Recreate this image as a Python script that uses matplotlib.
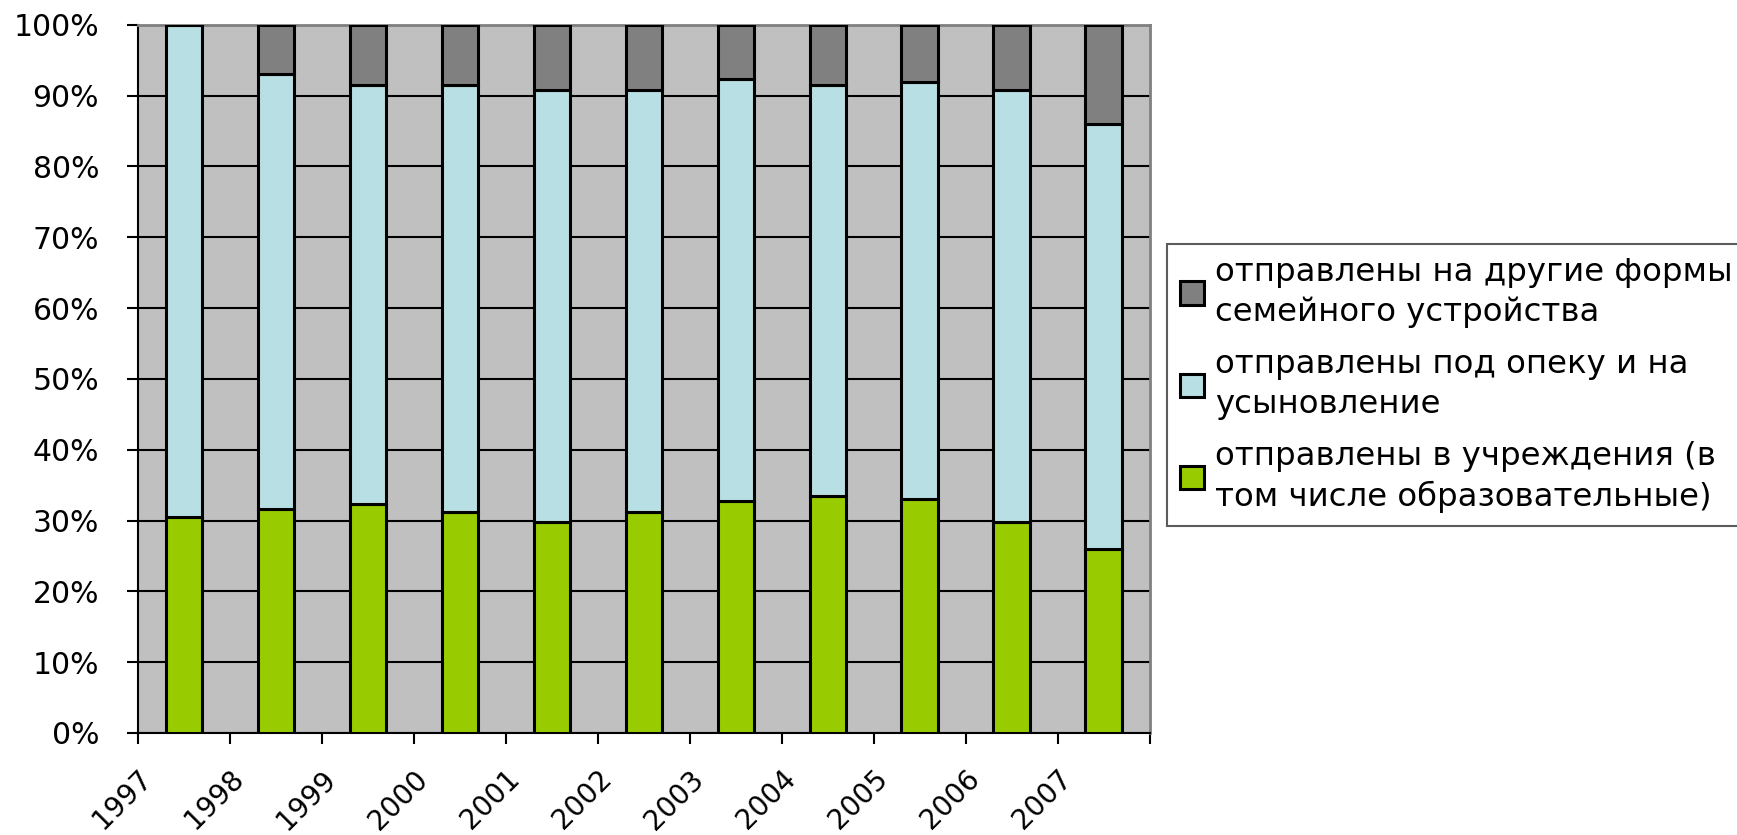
import numpy as np
import matplotlib
matplotlib.use("Agg")
import matplotlib.pyplot as plt
from matplotlib.patches import Rectangle
from matplotlib.legend_handler import HandlerPatch
from matplotlib.transforms import ScaledTranslation

plt.rcParams['font.family'] = ['DejaVu Sans']

# ---- data (shares, %) ----
years = ["1997", "1998", "1999", "2000", "2001", "2002",
         "2003", "2004", "2005", "2006", "2007"]
institutions = [30.5, 31.6, 32.3, 31.2, 29.8, 31.2, 32.7, 33.5, 33.0, 29.8, 26.0]
guardianship = [69.5, 61.4, 59.2, 60.3, 61.0, 59.6, 59.6, 58.0, 59.0, 61.0, 60.0]
other_forms  = [0.0, 7.0, 8.5, 8.5, 9.2, 9.2, 7.7, 8.5, 8.0, 9.2, 14.0]

labels = ["отправлены на другие формы\nсемейного устройства",
          "отправлены под опеку и на\nусыновление",
          "отправлены в учреждения (в\nтом числе образовательные)"]
colors = ["#808080", "#B8DFE3", "#99CC00"]

LEG_FS = 23.3
LEG_LS = 1.35


class TopLineHandler(HandlerPatch):
    """square key aligned with the first line of a two-line label"""
    def create_artists(self, legend, orig_handle, xdescent, ydescent,
                       width, height, fontsize, trans):
        shift = 0.5 * LEG_LS * fontsize + 0.5 * fontsize
        p = Rectangle((-xdescent, -ydescent + shift), width, height,
                      facecolor=orig_handle.get_facecolor(),
                      edgecolor="black", linewidth=1.5, transform=trans)
        return [p]


x = np.arange(len(years))
inst = np.array(institutions)
guard = np.array(guardianship)
oth = np.array(other_forms)

fig = plt.figure(figsize=(17.37, 8.35), dpi=100)
ax = fig.add_axes([0.0794, 0.1222, 0.5826, 0.848])
ax.set_facecolor("#C0C0C0")

w = 0.40
b1 = ax.bar(x, inst, w, color=colors[2], edgecolor="black", linewidth=2.2, zorder=3)
b2 = ax.bar(x, guard, w, bottom=inst, color=colors[1], edgecolor="black", linewidth=2.2, zorder=3)
b3 = ax.bar(x, oth, w, bottom=inst + guard, color=colors[0], edgecolor="black", linewidth=2.2, zorder=3)

ax.set_ylim(0, 100)
ax.set_xlim(-0.5, len(years) - 0.5)
ax.set_yticks(np.arange(0, 101, 10))
ax.set_yticklabels([f"{v}%" for v in range(0, 101, 10)], fontsize=21.5)
ax.yaxis.grid(True, color="black", linewidth=1.5, zorder=1)
ax.set_axisbelow(True)

# category boundaries carry the ticks; year labels hang off the left boundary
ax.set_xticks(np.arange(len(years) + 1) - 0.5)
ax.set_xticklabels(years + [""], rotation=45, ha="right", va="top",
                   rotation_mode="anchor", fontsize=20)
shift = ScaledTranslation(0.21, 0, fig.dpi_scale_trans)
for lab in ax.get_xticklabels():
    lab.set_transform(lab.get_transform() + shift)
ax.tick_params(axis="x", length=8, width=1.5, pad=15)
ax.tick_params(axis="y", length=8, width=1.5, pad=20)

for s in ["left", "bottom"]:
    ax.spines[s].set_color("black")
    ax.spines[s].set_linewidth(1.5)
for s in ["top", "right"]:
    ax.spines[s].set_color("#808080")
    ax.spines[s].set_linewidth(2)

leg = fig.legend([b3, b2, b1], labels, loc="upper left",
                 bbox_to_anchor=(0.672, 0.708), borderaxespad=0,
                 frameon=True, fancybox=False, edgecolor="#333333",
                 handlelength=0.72, handleheight=0.72, handletextpad=0.36,
                 labelspacing=0.66, borderpad=0.4,
                 handler_map={Rectangle: TopLineHandler()},
                 prop={"family": "DejaVu Sans", "size": LEG_FS})
leg.get_frame().set_linewidth(1.5)
for t in leg.get_texts():
    t.set_linespacing(LEG_LS)

fig.savefig("out.png", dpi=100)
